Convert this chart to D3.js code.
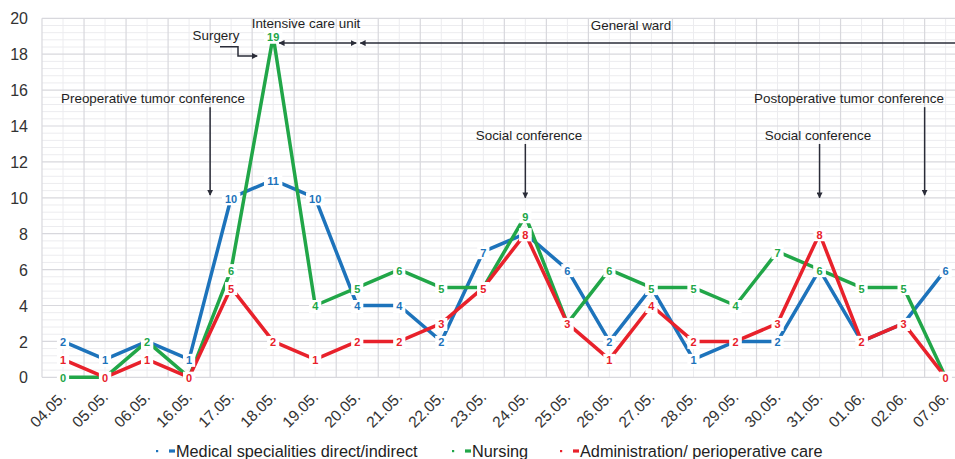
<!DOCTYPE html>
<html>
<head>
<meta charset="utf-8">
<script src="https://cdn.jsdelivr.net/npm/d3@7"></script>
<style>
  html, body { margin: 0; padding: 0; background: #fff; }
  svg { display: block; font-family: "Liberation Sans", Arial, Helvetica, sans-serif; }
</style>
</head>
<body>
<svg id="chart" width="955" height="459"></svg>
<script>
// Daily workload per professional group, perioperative course
const categories = ["04.05.", "05.05.", "06.05.", "16.05.", "17.05.", "18.05.", "19.05.", "20.05.",
  "21.05.", "22.05.", "23.05.", "24.05.", "25.05.", "26.05.", "27.05.", "28.05.", "29.05.",
  "30.05.", "31.05.", "01.06.", "02.06.", "07.06."];
const medical = [2, 1, 2, 1, 10, 11, 10, 4, 4, 2, 7, 8, 6, 2, 5, 1, 2, 2, 6, 2, 3, 6];
const nursing = [0, 0, 2, 0, 6, 19, 4, 5, 6, 5, 5, 9, 3, 6, 5, 5, 4, 7, 6, 5, 5, 0];
const admin   = [1, 0, 1, 0, 5, 2, 1, 2, 2, 3, 5, 8, 3, 1, 4, 2, 2, 3, 8, 2, 3, 0];
const yTickValues = [0, 2, 4, 6, 8, 10, 12, 14, 16, 18, 20];
const seriesNames = ["Medical specialities direct/indirect", "Nursing", "Administration/ perioperative care"];
const seriesColors = ["#1d73bb", "#21a648", "#e8212b"];

// Event markers: vertical arrows dropping onto a day
const events = [
  { text: "Preoperative tumor conference", at: "16.05.", side: "right", textX: 153, top: 15.05, bottom: 10.15, textY: 15.3 },
  { text: "Social conference", at: "24.05.", side: "center", textX: 529, top: 13.0, bottom: 10.0, textY: 13.2 },
  { text: "Social conference", at: "31.05.", side: "center", textX: 818, top: 13.0, bottom: 10.0, textY: 13.2 },
  { text: "Postoperative tumor conference", at: "02.06.", side: "right", textX: 849, top: 15.05, bottom: 10.15, textY: 15.3 }
];

const svg = d3.select("#chart");
const W = 955, H = 459;
const left = 42, step = 42.03;
const x = d3.scaleBand().domain(categories).range([left, left + step * categories.length]).paddingInner(0).paddingOuter(0);
const y = d3.scaleLinear().domain([0, 20]).range([377.3, 18.3]);
const cx = c => x(c) + x.bandwidth() / 2;

// Grid: minor lines then major lines
const grid = svg.append("g");
const minorY = d3.range(0, 20.01, 0.4).filter(v => Math.abs(v / 2 - Math.round(v / 2)) > 0.01);
grid.selectAll("line.ymin").data(minorY).join("line")
  .attr("x1", left).attr("x2", W).attr("y1", d => y(d)).attr("y2", d => y(d))
  .attr("stroke", "#ececef").attr("stroke-width", 1);
grid.selectAll("line.xmin").data(categories).join("line")
  .attr("x1", d => cx(d)).attr("x2", d => cx(d)).attr("y1", y(20)).attr("y2", y(0))
  .attr("stroke", "#ececef").attr("stroke-width", 1);
grid.selectAll("line.ymaj").data(yTickValues).join("line")
  .attr("x1", left).attr("x2", W).attr("y1", d => y(d)).attr("y2", d => y(d))
  .attr("stroke", "#d8d8dd").attr("stroke-width", 1.2);
grid.selectAll("line.xmaj").data(categories.concat(["end"])).join("line")
  .attr("x1", (d, i) => left + i * step).attr("x2", (d, i) => left + i * step)
  .attr("y1", y(20)).attr("y2", y(0))
  .attr("stroke", "#d8d8dd").attr("stroke-width", 1.2);

// Y axis labels
const yAxis = d3.axisLeft(y).tickValues(yTickValues).tickSize(0).tickPadding(0).tickFormat(d3.format("d"));
const gy = svg.append("g").attr("transform", "translate(28,0)").call(yAxis);
gy.select(".domain").remove();
gy.selectAll("text").attr("font-size", 16).attr("fill", "#333").attr("dy", "0.35em")
  .style("font-family", "'Liberation Sans', Arial, sans-serif");

// X axis labels, rotated
const xAxis = d3.axisBottom(x).tickSize(0).tickPadding(0);
const gx = svg.append("g").call(xAxis);
gx.select(".domain").remove();
gx.selectAll(".tick").attr("transform", d => `translate(${cx(d) + 4},398)`);
gx.selectAll("text").attr("font-size", 15.5).attr("fill", "#333")
  .attr("text-anchor", "end").attr("dy", 0).attr("y", 0).attr("x", 0)
  .attr("transform", "rotate(-45)")
  .style("font-family", "'Liberation Sans', Arial, sans-serif");

// Series lines
const data = [medical, nursing, admin];
const line = d3.line().x((d, i) => cx(categories[i])).y(d => y(d));
svg.append("g").selectAll("path").data(data).join("path")
  .attr("d", line).attr("fill", "none")
  .attr("stroke", (d, i) => seriesColors[i]).attr("stroke-width", 3.5)
  .attr("stroke-linejoin", "round");

// Value labels with white backing
const labelLayer = svg.append("g");
data.forEach((vals, s) => {
  const g = labelLayer.append("g");
  vals.forEach((v, i) => {
    const px = cx(categories[i]), py = y(v) + 1;
    const t = String(v);
    const w = t.length * 6.2 + 6;
    g.append("rect").attr("x", px - w / 2).attr("y", py - 6.5).attr("width", w).attr("height", 13).attr("fill", "#fff");
    g.append("text").attr("x", px).attr("y", py).attr("dy", "0.36em")
      .attr("text-anchor", "middle").attr("font-size", 11).attr("font-weight", "bold")
      .attr("fill", seriesColors[s]).text(t);
  });
});

// Annotations
const ann = svg.append("g").attr("fill", "#1e1e24").attr("font-size", 13.4);
const arrowCol = "#2a2c38";
const defs = svg.append("defs");
defs.append("marker").attr("id", "ah").attr("viewBox", "0 0 10 10").attr("refX", 9).attr("refY", 5)
  .attr("markerWidth", 6).attr("markerHeight", 6).attr("markerUnits", "userSpaceOnUse").attr("orient", "auto-start-reverse")
  .append("path").attr("d", "M0,0 L10,5 L0,10 Z").attr("fill", arrowCol);

events.forEach(e => {
  const ax = e.side === "right" ? x(e.at) + x.bandwidth() : cx(e.at);
  ann.append("line").attr("x1", ax).attr("x2", ax).attr("y1", y(e.top)).attr("y2", y(e.bottom))
    .attr("stroke", arrowCol).attr("stroke-width", 1.5).attr("marker-end", "url(#ah)");
  ann.append("text").attr("x", e.textX).attr("y", y(e.textY)).attr("text-anchor", "middle").text(e.text);
});

// Ward stays: horizontal double arrows
const yStay = y(18.62);
const icuStart = cx("18.05.") + 6, icuEnd = cx("20.05.") - 1;
ann.append("line").attr("x1", icuStart).attr("x2", icuEnd).attr("y1", yStay).attr("y2", yStay)
  .attr("stroke", arrowCol).attr("stroke-width", 1.6)
  .attr("marker-start", "url(#ah)").attr("marker-end", "url(#ah)");
ann.append("text").attr("x", 306).attr("y", 28.3).attr("text-anchor", "middle").text("Intensive care unit");
const wardStart = cx("20.05.") + 3;
ann.append("line").attr("x1", wardStart).attr("x2", W + 20).attr("y1", yStay).attr("y2", yStay)
  .attr("stroke", arrowCol).attr("stroke-width", 1.6).attr("marker-start", "url(#ah)");
ann.append("text").attr("x", 631).attr("y", 29.5).attr("text-anchor", "middle").text("General ward");

// Surgery: elbow arrow
const sx0 = 220, sx1 = 238, sx2 = cx("18.05.") - 16;
ann.append("path").attr("d", `M${sx0},${y(18.42)} H${sx1} V${y(17.9)} H${sx2}`)
  .attr("fill", "none").attr("stroke", arrowCol).attr("stroke-width", 1.5).attr("marker-end", "url(#ah)");
ann.append("text").attr("x", 216).attr("y", y(18.8)).attr("text-anchor", "middle").text("Surgery");

// Legend
const legendX = [157, 453, 561];
const lg = svg.append("g");
seriesNames.forEach((n, i) => {
  const g = lg.append("g").attr("transform", `translate(${legendX[i]},451)`);
  g.append("rect").attr("x", -1).attr("y", -1).attr("width", 2.2).attr("height", 2.2).attr("fill", seriesColors[i]);
  g.append("rect").attr("x", 12).attr("y", -1.6).attr("width", 6).attr("height", 3.2).attr("fill", seriesColors[i]);
  g.append("text").attr("x", 19).attr("y", 0).attr("dy", "0.36em").attr("font-size", 16.3).attr("fill", "#222").text(n);
});
</script>
</body>
</html>
